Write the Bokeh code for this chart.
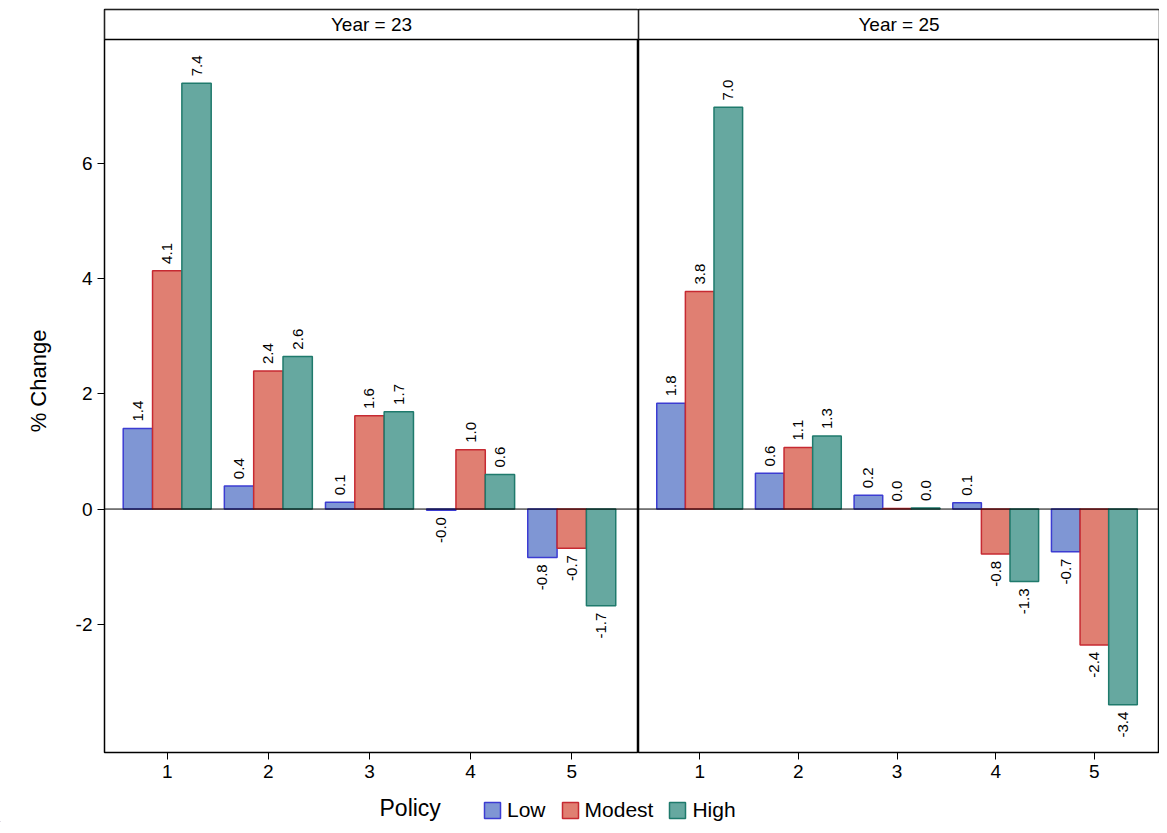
import math
from bokeh.plotting import figure
from bokeh.layouts import column, row
from bokeh.models import Range1d, Span, FixedTicker, Legend, LegendItem, ColumnDataSource
from bokeh.core.properties import value
from bokeh.embed import file_html
from bokeh.resources import INLINE

policies = [1, 2, 3, 4, 5]
years = ["23", "25"]
series = ["Low", "Modest", "High"]
y23_low = [1.40, 0.40, 0.12, -0.02, -0.84]
y23_modest = [4.14, 2.40, 1.62, 1.03, -0.68]
y23_high = [7.40, 2.65, 1.69, 0.60, -1.68]
y25_low = [1.84, 0.62, 0.24, 0.11, -0.74]
y25_modest = [3.78, 1.07, 0.01, -0.78, -2.36]
y25_high = [6.98, 1.27, 0.02, -1.26, -3.40]
data = {"23": [y23_low, y23_modest, y23_high], "25": [y25_low, y25_modest, y25_high]}
fills = ["#7f96d4", "#e07f72", "#66a8a0"]
lines = ["#3c3cd2", "#c62a32", "#1f7a6c"]
offsets = [-0.29, 0.0, 0.29]
FONT = "Liberation Sans"
YTOP, YBOT, STRIP = 8.68, -4.23, 8.16
YTICKS = [-2, 0, 2, 4, 6]

def panel(year, left):
    w = 638 if left else 521
    p = figure(width=w, height=792, output_backend="svg", toolbar_location=None,
               x_range=Range1d(0.38, 5.66), y_range=Range1d(YBOT, YTOP),
               min_border_left=104 if left else 0, min_border_right=0,
               min_border_top=9, min_border_bottom=40)
    p.xgrid.visible = False
    p.ygrid.visible = False
    p.outline_line_color = "black"
    p.outline_line_width = 1.5
    p.xaxis.ticker = FixedTicker(ticks=policies)
    p.xaxis.major_label_text_font = FONT
    p.xaxis.major_label_text_font_size = "19px"
    p.xaxis.major_label_text_color = "black"
    p.xaxis.minor_tick_line_color = None
    p.xaxis.axis_line_color = None
    p.xaxis.major_tick_in = 0
    p.xaxis.major_tick_out = 7
    p.xaxis.major_tick_line_color = "black"
    if left:
        p.yaxis.ticker = FixedTicker(ticks=YTICKS)
        p.yaxis.major_label_overrides = {t: str(t) for t in YTICKS}
        p.yaxis.major_label_text_font = FONT
        p.yaxis.major_label_text_font_size = "19px"
        p.yaxis.major_label_text_color = "black"
        p.yaxis.minor_tick_line_color = None
        p.yaxis.axis_line_color = None
        p.yaxis.major_tick_in = 0
        p.yaxis.major_tick_out = 7
        p.yaxis.major_tick_line_color = "black"
        p.yaxis.axis_label = "% Change"
        p.yaxis.axis_label_text_font = FONT
        p.yaxis.axis_label_text_font_size = "22px"
        p.yaxis.axis_label_text_font_style = "normal"
        p.yaxis.axis_label_text_color = "black"
        p.yaxis.axis_label_standoff = 22
    else:
        p.yaxis.visible = False
    p.add_layout(Span(location=0, dimension="width", line_color="black", line_width=1))
    rends = []
    for i, vals in enumerate(data[year]):
        xs = [x + offsets[i] for x in policies]
        r = p.vbar(x=xs, top=vals, bottom=0, width=0.29, fill_color=fills[i],
                   line_color=lines[i], line_width=1.5)
        rends.append(r)
        src_p = ColumnDataSource(dict(x=[x for x, v in zip(xs, vals) if v >= 0],
                                      y=[v + 0.12 for v in vals if v >= 0],
                                      t=["%.1f" % v for v in vals if v >= 0]))
        src_n = ColumnDataSource(dict(x=[x for x, v in zip(xs, vals) if v < 0],
                                      y=[v - 0.12 for v in vals if v < 0],
                                      t=["%.1f" % v for v in vals if v < 0]))
        p.text(x="x", y="y", text="t", source=src_p, angle=math.pi / 2, text_align="left",
               text_baseline="middle", text_font=value(FONT), text_font_size="15px", text_color="black")
        p.text(x="x", y="y", text="t", source=src_n, angle=math.pi / 2, text_align="right",
               text_baseline="middle", text_font=value(FONT), text_font_size="15px", text_color="black")
    p.quad(left=[0.38], right=[5.66], bottom=[STRIP], top=[YTOP], fill_color="white",
           line_color="black", line_width=1.5)
    p.text(x=[3.02], y=[(STRIP + YTOP) / 2], text=["Year = " + year], text_align="center",
           text_baseline="middle", text_font=value(FONT), text_font_size="19px")
    return p, rends

p1, rends = panel("23", True)
p2, _ = panel("25", False)

lg = figure(width=1159, height=30, output_backend="svg", toolbar_location=None,
            x_range=Range1d(0, 1), y_range=Range1d(0, 1), min_border=0)
lg.axis.visible = False
lg.grid.visible = False
lg.outline_line_color = None
dummies = [lg.vbar(x=[-5], top=[0], width=0.1, fill_color=fills[i], line_color=lines[i], line_width=1.5)
           for i in range(3)]
leg = Legend(items=[LegendItem(label=s, renderers=[d]) for s, d in zip(series, dummies)],
             orientation="horizontal", location=(482, 0), border_line_color=None,
             label_text_font=FONT, label_text_font_size="21px", glyph_width=20, glyph_height=20,
             spacing=14, padding=2, background_fill_alpha=0, label_text_color="black")
lg.add_layout(leg, "center")
lg.text(x=[0.327], y=[0.5], text=["Policy"], text_align="left", text_baseline="middle",
        text_font=value(FONT), text_font_size="23px")

layout = column(row(p1, p2, spacing=0), lg, spacing=0)
open("out.html", "w").write(file_html(layout, INLINE))
